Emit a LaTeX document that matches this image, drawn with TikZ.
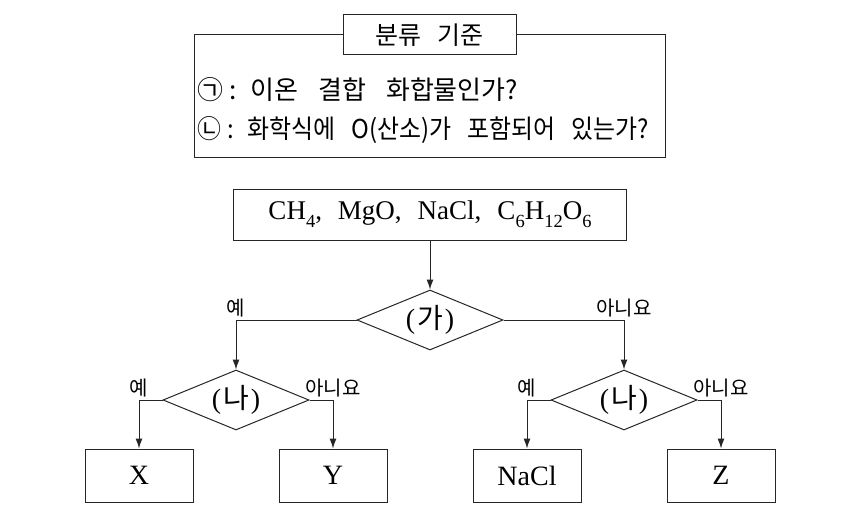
\documentclass[tikz,border=0pt]{standalone}
\usepackage{fontspec}
\setmainfont{Liberation Serif}
\newfontfamily\kr{Noto Sans CJK KR}
\newfontfamily\krn[FakeStretch=0.92]{Noto Sans CJK KR}
\usepackage{tikz}
\usetikzlibrary{
    arrows.meta,
    shapes.geometric
}

\newcommand{\chsub}[1]{\raisebox{-0.28em}{\fontsize{18.5}{20}\selectfont #1}}
\newcommand{\wsp}{\hspace{20pt}}

\tikzset{
    line/.style={draw=black!85, line width=1pt},
    arr/.style={line, -{Latex[length=10pt,width=7pt]}},
    chembox/.style={line, rectangle, minimum width=393pt, minimum height=51pt, inner sep=0pt, font=\fontsize{27}{28}\selectfont},
    endbox/.style={line, rectangle, minimum width=108pt, minimum height=53pt, inner sep=0pt, font=\fontsize{28}{30}\selectfont},
    choice/.style={line, diamond, aspect=2.43, minimum width=146pt, minimum height=60pt, inner sep=0pt, font=\fontsize{28}{28}\selectfont},
    titlebox/.style={line, fill=white, rectangle, minimum width=173pt, minimum height=40pt, inner sep=0pt, font=\kr\fontsize{25}{26}\selectfont},
    crit/.style={anchor=west, inner sep=0pt, font=\fontsize{26}{28}\selectfont},
    ans/.style={anchor=south, inner sep=0pt, font=\kr\fontsize{20}{22}\selectfont}
}

\begin{document}
\begin{tikzpicture}[x=1pt, y=-1pt]
        \useasboundingbox (0, 0) rectangle (848, 519);
        % criteria box
        \draw [line] (194, 35) rectangle (665, 157);
        \node[titlebox] (title) at (429.5, 35) {분류\hspace{16pt}기준};
        \node[crit] (crit1) at (197, 90) {\kr ㉠\hspace{6pt}:\hspace{14pt}이온\wsp 결합\wsp 화합물인가?};
        \node[crit] (crit2) at (197, 130) {\krn ㉡\hspace{6pt}:\hspace{14pt}화학식에\hspace{16pt}O(산소)가\hspace{16pt}포함되어\hspace{16pt}있는가?};
        % flow chart
        \node[chembox] (mix) at (430, 214.5) {CH\chsub{4},\hspace{16pt}MgO,\hspace{16pt}NaCl,\hspace{16pt}C\chsub{6}H\chsub{12}O\chsub{6}};
        \node[choice] (ga) at (430, 320) {(\hspace{2pt}{\kr 가}\hspace{2pt})};
        \node[choice] (naL) at (236, 400) {(\hspace{2pt}{\kr 나}\hspace{2pt})};
        \node[choice] (naR) at (624, 400) {(\hspace{2pt}{\kr 나}\hspace{2pt})};
        \node[endbox] (x) at (139, 475.5) {X};
        \node[endbox] (y) at (333, 475.5) {Y};
        \node[endbox] (nacl) at (527, 475.5) {NaCl};
        \node[endbox] (z) at (721, 475.5) {Z};
        \draw [arr] (mix) -- (ga);
        \draw [arr] (ga.west) -| (naL.north);
        \draw [arr] (ga.east) -| (naR.north);
        \draw [arr] (naL.west) -| (x.north);
        \draw [arr] (naL.east) -| (y.north);
        \draw [arr] (naR.west) -| (nacl.north);
        \draw [arr] (naR.east) -| (z.north);
        \node[ans] (yes1) at ([yshift=3pt]ga.west -| naL.north) {예};
        \node[ans] (no1) at ([yshift=3pt]ga.east -| naR.north) {아니요};
        \node[ans] (yes2) at ([yshift=3pt]naL.west -| x.north) {예};
        \node[ans] (no2) at ([yshift=3pt]naL.east -| y.north) {아니요};
        \node[ans] (yes3) at ([yshift=3pt]naR.west -| nacl.north) {예};
        \node[ans] (no3) at ([yshift=3pt]naR.east -| z.north) {아니요};
\end{tikzpicture}
\end{document}
